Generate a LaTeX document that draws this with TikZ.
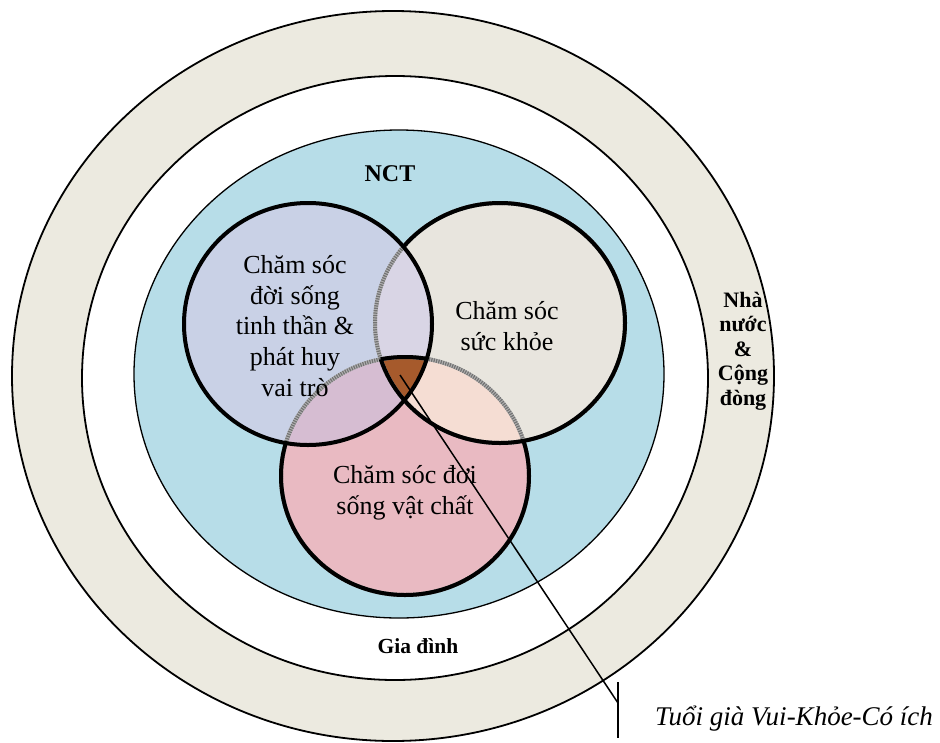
\documentclass[tikz,border=0pt]{standalone}
\usepackage{fontspec}
\setmainfont{Liberation Serif}
\definecolor{ringbeige}{HTML}{ECEAE0}
\definecolor{nctblue}{HTML}{B7DDE8}
\definecolor{spiritfill}{HTML}{C9D1E6}
\definecolor{healthfill}{HTML}{E8E5DE}
\definecolor{materialfill}{HTML}{E9BAC2}
\definecolor{spirithealth}{HTML}{D9D5E5}
\definecolor{spiritmaterial}{HTML}{D6BDD2}
\definecolor{healthmaterial}{HTML}{F5DDD3}
\definecolor{coreorange}{HTML}{A65A2C}
\begin{document}
\begin{tikzpicture}[x=1pt,y=1pt,
  ringline/.style={draw=black,line width=1.8pt},
  vennline/.style={draw=black,line width=4pt},
  hiddenline/.style={draw=black!55,line width=4pt,dash pattern=on 1.2pt off 1.2pt},
  hiddenbase/.style={draw=black!30,line width=4pt},
  areatext/.style={align=center,font=\fontsize{26}{30.6}\selectfont},
  boldtext/.style={align=center,font=\bfseries\fontsize{22}{24.5}\selectfont},
  leader/.style={draw=black,line width=1.5pt}]
\useasboundingbox (0,0) rectangle (940,-742);

% circle paths of the diagram
\def\spirit{(308,-324) ellipse (124pt and 121pt)}
\def\health{(500,-323) ellipse (125pt and 120pt)}
\def\material{(405,-476) ellipse (124pt and 119pt)}
\def\everything{(-50,50) rectangle (990,-792)}

% nested rings: community, family, elderly
\path[fill=ringbeige,ringline] (393,-376) ellipse (381pt and 365pt);
\path[fill=white,ringline] (395,-378) ellipse (313pt and 302pt);
\path[fill=nctblue,draw=black,line width=1.3pt] (399,-374) ellipse (265pt and 244pt);

% area fills
\fill[spiritfill] \spirit;
\fill[healthfill] \health;
\fill[materialfill] \material;
\begin{scope}
  \clip \spirit;
  \fill[spirithealth] \health;
  \fill[spiritmaterial] \material;
\end{scope}
\begin{scope}
  \clip \health;
  \fill[healthmaterial] \material;
\end{scope}
\begin{scope}
  \clip \spirit;
  \clip \health;
  \fill[coreorange] \material;
\end{scope}

% hidden arcs (grey) under the visible outlines
\path[hiddenbase] \health;
\path[hiddenbase] \material;
\path[hiddenline] \health;
\path[hiddenline] \material;

% visible outlines
\path[vennline] \spirit;
\begin{scope}[even odd rule]
  \clip \everything \spirit;
  \path[vennline] \health;
\end{scope}
\begin{scope}[even odd rule]
  \clip \everything \spirit;
  \clip \everything \health;
  \path[vennline] \material;
\end{scope}
\begin{scope}
  \clip \spirit;
  \clip \health;
  \path[vennline] \material;
\end{scope}
\begin{scope}
  \clip \spirit;
  \clip \material;
  \path[vennline] \health;
\end{scope}

% labels
\node[font=\bfseries\fontsize{24}{28}\selectfont] (nct) at (390,-174) {NCT};
\node[areatext] (spiritlabel) at (295,-326) {Chăm sóc\\đời sống\\tinh thần \&\\phát huy\\vai trò};
\node[areatext] (healthlabel) at (507,-326) {Chăm sóc\\sức khỏe};
\node[areatext] (materiallabel) at (405,-493) {Chăm sóc đơi\\sống vật chất};
\node[boldtext] (statelabel) at (743,-351) {Nhà\\nước\\\&\\Cộng\\đòng};
\node[font=\bfseries\fontsize{21.5}{24}\selectfont] (familylabel) at (418,-646) {Gia đình};

% leader from the common core to its caption
\coordinate (core) at (400,-375);
\coordinate (knee) at (618,-703);
\coordinate (bartop) at (618,-682);
\coordinate (barbottom) at (618,-738);
\draw[leader] (core) -- (knee);
\draw[leader] (bartop) -- (barbottom);
\node[anchor=base west,inner sep=0pt,font=\itshape\fontsize{27}{32}\selectfont] (goal) at (655,-725) {Tuổi già Vui-Khỏe-Có ích};
\end{tikzpicture}
\end{document}
